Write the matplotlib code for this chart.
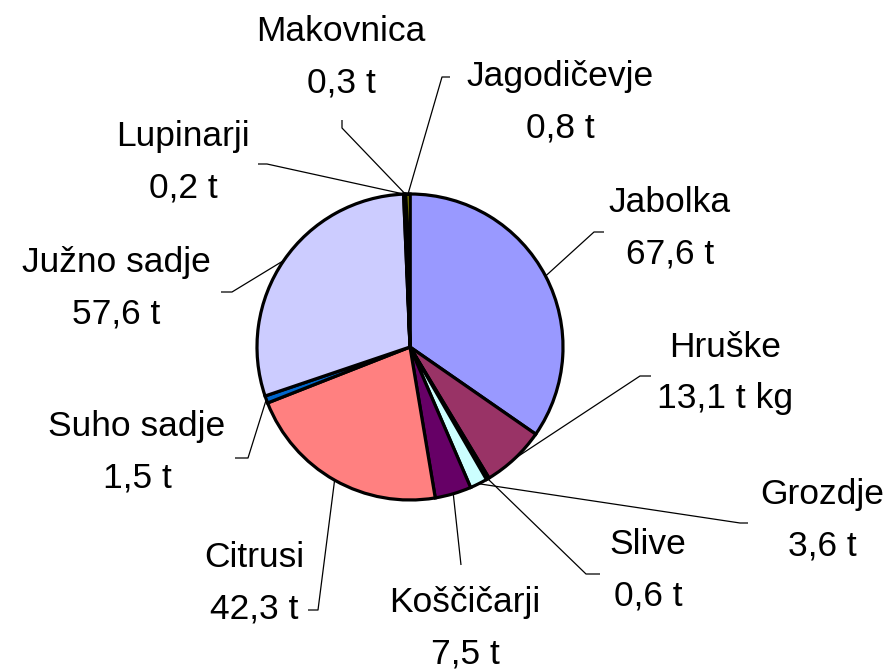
import numpy as np
import matplotlib
matplotlib.use("Agg")
import matplotlib.pyplot as plt

plt.rcParams['font.family'] = ['Liberation Sans', 'DejaVu Sans']

# data (tonnes), clockwise from the top
names = ["Jabolka", "Hruške", "Slive", "Grozdje", "Koščičarji", "Citrusi",
         "Suho sadje", "Južno sadje", "Lupinarji", "Makovnica", "Jagodičevje"]
values = [67.6, 13.1, 0.6, 3.6, 7.5, 42.3, 1.5, 57.6, 0.2, 0.3, 0.8]
value_labels = ["67,6 t", "13,1 t kg", "0,6 t", "3,6 t", "7,5 t", "42,3 t",
                "1,5 t", "57,6 t", "0,2 t", "0,3 t", "0,8 t"]
colors = ['#9999FF', '#993366', '#FFFFCC', '#CCFFFF', '#660066', '#FF8080',
          '#0066CC', '#CCCCFF', '#000080', '#FF00FF', '#FFFF00']

# label layout in pixel coords: text centre, leader elbow, leader tick end
text_pos = [(670, 228), (725, 373), (648, 570), (822, 520), (465, 628), (254, 583),
            (137, 452), (116, 288), (183, 162), (341, 57), (560, 102)]
elbows = [(594, 232), (640, 376), (586, 574), (740, 523), (461, 565), (318, 610),
          (248, 458), (232, 292), (267, 164), (342, 128), (442, 77)]
tick_ends = [(604, 232), (651, 376), (600, 574), (748, 523), (461, 565), (308, 610),
             (235, 458), (221, 292), (258, 164), (342, 120), (450, 77)]

W, H = 895, 669
CX, CY, R = 410, 347, 153

fig = plt.figure(figsize=(W / 100, H / 100), dpi=100)
ax = fig.add_axes([0, 0, 1, 1])

wedges, _ = ax.pie(values, colors=colors, startangle=-90, counterclock=True,
                   center=(CX, CY), radius=R,
                   wedgeprops=dict(edgecolor='black', linewidth=2.3))

ax.set_xlim(0, W)
ax.set_ylim(H, 0)
ax.set_aspect('equal')
ax.axis('off')

for i, w in enumerate(wedges):
    mid = np.deg2rad((w.theta1 + w.theta2) / 2)
    ax_x = CX + R * np.cos(mid)
    ax_y = CY + R * np.sin(mid)
    ex, ey = elbows[i]
    tx, ty = tick_ends[i]
    ax.plot([ax_x, ex, tx], [ax_y, ey, ty], color='black', lw=0.9,
            solid_capstyle='butt', zorder=3)
    ax.text(text_pos[i][0], text_pos[i][1], f"{names[i]}\n{value_labels[i]}",
            ha='center', va='center', multialignment='center',
            fontsize=25.5, linespacing=1.72, color='black')

fig.savefig("out.png", dpi=100)
